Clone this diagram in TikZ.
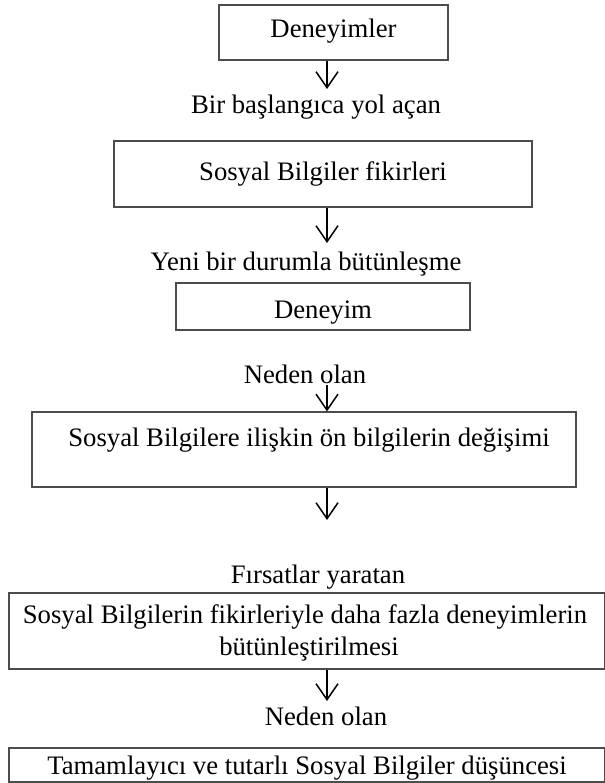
\documentclass[tikz,border=0pt]{standalone}
\usepackage{fontspec}
\setmainfont{Liberation Serif}
\usetikzlibrary{arrows.meta}
\begin{document}
\begin{tikzpicture}[x=1pt,y=-1pt,
  box/.style={draw=black!70, line width=1.1pt, inner sep=0pt},
  txt/.style={font=\fontsize{26.7}{36}\selectfont, inner sep=0pt, anchor=base, align=center},
  arr/.style={line width=1.5pt, -{Straight Barb[length=16pt, width=22pt, line width=1.5pt]}}]
\useasboundingbox (0,0) rectangle (604,783);

% frames (centre, width, height)
\node[box, minimum width=229pt, minimum height=55pt] (A) at (333.5,32.5) {};
\node[box, minimum width=418pt, minimum height=66pt] (B) at (323,174) {};
\node[box, minimum width=294pt, minimum height=47pt] (C) at (323,306.5) {};
\node[box, minimum width=544pt, minimum height=75pt] (D) at (304,449.5) {};
\node[box, minimum width=596pt, minimum height=76pt] (E) at (307,631) {};
\node[box, minimum width=596pt, minimum height=34pt] (F) at (307,765) {};

% texts inside the frames
\node[txt] (tA) at (333.5,38) {Deneyimler};
\node[txt] (tB) at (323,181) {Sosyal Bilgiler fikirleri};
\node[txt] (tC) at (323,318) {Deneyim};
\node[txt] (tD) at (309,446) {Sosyal Bilgilere ilişkin ön bilgilerin değişimi};
\node[txt] (tE1) at (305,623) {Sosyal Bilgilerin fikirleriyle daha fazla deneyimlerin};
\node[txt] (tE2) at (309,655) {bütünleştirilmesi};
\node[txt] (tF) at (307,774) {Tamamlayıcı ve tutarlı Sosyal Bilgiler düşüncesi};

% link labels
\node[txt] (L1) at (316,114) {Bir başlangıca yol açan};
\node[txt] (L2) at (306,270) {Yeni bir durumla bütünleşme};
\node[txt] (L3) at (305,383) {Neden olan};
\node[txt] (L4) at (318,583) {Fırsatlar yaratan};
\node[txt] (L5) at (326,725) {Neden olan};

% arrow ends
\coordinate (x) at (327,0);
\coordinate (eA) at (327,89);
\coordinate (eB) at (327,243);
\coordinate (sC) at (327,385);
\coordinate (eD) at (327,520);
\coordinate (eE) at (327,701);

\draw[arr] (A.south -| x) -- (eA);
\draw[arr] (B.south -| x) -- (eB);
\draw[arr] (sC) -- (D.north -| x);
\draw[arr] (D.south -| x) -- (eD);
\draw[arr] (E.south -| x) -- (eE);
\end{tikzpicture}
\end{document}
